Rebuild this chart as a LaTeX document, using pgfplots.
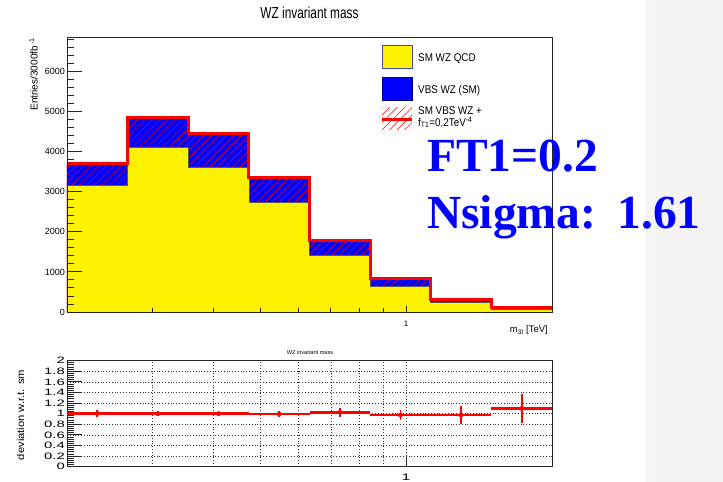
\documentclass[border=0pt]{standalone}
\usepackage{fontspec}
\setmainfont{Liberation Sans}
\newfontfamily\bigserif{Liberation Serif}
\usepackage{graphicx}
\usepackage{pgfplots}
\usepackage{pgfplotstable}
\pgfplotsset{compat=1.18}
\usetikzlibrary{patterns.meta}

% bin left edges (log-uniform, 0.2--2 TeV), last row = right edge
\pgfplotstableread{
x qcd tot red
0.200000 0 0 0
0.200000 3150 3690 3698
0.266704 4097 4855 4855
0.355660 3599 4446 4446
0.474281 2736 3365 3349
0.632456 1404 1752 1796
0.843393 648 862 840
1.124683 232 332 324
1.499795 60 106 117
2.000000 60 106 117
}\hist

\pgfplotstableread{
x y xm xp ym yp
0.230956 1.007 0.030956 0.035748 0.065 0.065
0.307985 1.000 0.041281 0.047675 0.050 0.050
0.410710 1.000 0.055050 0.063571 0.050 0.050
0.547691 0.995 0.073410 0.084765 0.065 0.065
0.730351 1.026 0.097895 0.113042 0.085 0.085
0.973937 0.975 0.130544 0.150746 0.100 0.100
1.298764 0.975 0.174081 0.201031 0.165 0.165
1.731936 1.100 0.232141 0.268064 0.270 0.270
}\ratio

\newcommand{\fs}[1]{\fontsize{#1bp}{#1bp}\selectfont}
\newcommand{\sx}[1]{\scalebox{1.6}[1]{#1}}

\begin{document}
\begin{tikzpicture}
\useasboundingbox (0,0) rectangle (723bp,482bp);
\fill[white] (0,0) rectangle (723bp,482bp);
\shade[left color=gray!8, right color=gray!10] (645bp,0) rectangle (723bp,482bp);

% ---------------- top panel ----------------
\begin{axis}[
  scale only axis, width=485bp, height=275bp,
  at={(67bp,170bp)}, anchor=south west,
  xmode=log, xmin=0.2, xmax=2, ymin=0, ymax=6860,
  axis on top, tick pos=left, tick align=inside,
  xtick=\empty,
  ytick={0,1000,2000,3000,4000,5000,6000},
  yticklabels={0,1000,2000,3000,4000,5000,6000},
  minor ytick={0,200,...,6800},
  major tick length=15bp, minor tick length=7.5bp,
  axis line style={black!85, line width=0.9bp},
  every tick/.style={black!85, line width=0.9bp},
  yticklabel style={font=\fs{9}, inner sep=2bp},
  /pgf/number format/assume math mode=true,
]
\addplot[const plot mark left, draw=none, fill=blue] table[x=x,y=tot]{\hist} \closedcycle;
\addplot[const plot mark left, draw=none, pattern={Lines[angle=45,distance=5.3bp,line width=0.5bp]}, pattern color=red] table[x=x,y=red]{\hist} \closedcycle;
\addplot[const plot mark left, fill=yellow, draw=black!65, line width=0.7bp] table[x=x,y=qcd]{\hist} \closedcycle;
\addplot[const plot mark left, draw=blue!35!black, line width=0.6bp] table[x=x,y=tot]{\hist};
\addplot[const plot mark left, draw=red, line width=3bp] table[x=x,y=red]{\hist};
\end{axis}

% x ticks of top panel
\begin{axis}[
  scale only axis, width=485bp, height=275bp,
  at={(67bp,170bp)}, anchor=south west,
  xmode=log, xmin=0.2, xmax=2, ymin=0, ymax=6860,
  hide y axis, axis x line*=bottom,
  axis line style={-, black!85, line width=0.9bp},
  tick align=inside,
  xtick={1}, xticklabels={1},
  minor xtick={0.3,0.4,0.5,0.6,0.7,0.8,0.9},
  major tick length=6bp, minor tick length=4bp,
  every tick/.style={black!85, line width=0.9bp},
  xticklabel style={font=\fs{8}, yshift=-5bp},
  /pgf/number format/assume math mode=true,
]
\end{axis}

% ---------------- bottom panel ----------------
\begin{axis}[
  scale only axis, width=485bp, height=106bp,
  at={(67bp,15.3bp)}, anchor=south west,
  xmode=log, xmin=0.2, xmax=2, ymin=0, ymax=2,
  hide y axis, axis x line*=bottom,
  axis line style={-, black!85, line width=0.9bp},
  tick align=inside,
  xtick={1}, xticklabels={\sx{1}},
  minor xtick={0.3,0.4,0.5,0.6,0.7,0.8,0.9},
  xmajorgrids, xminorgrids,
  grid style={black!80, line width=0.7bp, dash pattern=on 0.8bp off 2bp},
  major tick length=10bp, minor tick length=0bp,
  every tick/.style={black!85, line width=0.9bp},
  xticklabel style={font=\fs{9.5}, yshift=-4bp},
  /pgf/number format/assume math mode=true,
]
\end{axis}

\begin{axis}[
  scale only axis, width=485bp, height=106bp,
  at={(67bp,15.3bp)}, anchor=south west,
  xmode=log, xmin=0.2, xmax=2, ymin=0, ymax=2,
  tick pos=left, tick align=inside,
  xtick=\empty,
  ytick={0,0.2,0.4,0.6,0.8,1,1.2,1.4,1.6,1.8,2},
  yticklabels={\sx{0},\sx{0.2},\sx{0.4},\sx{0.6},\sx{0.8},\sx{1},\sx{1.2},\sx{1.4},\sx{1.6},\sx{1.8},\sx{2}},
  minor ytick={0,0.04,...,2.01},
  ymajorgrids,
  grid style={black!80, line width=0.7bp, dash pattern=on 0.8bp off 2bp},
  major tick length=15bp, minor tick length=7bp,
  axis line style={black!85, line width=0.9bp},
  every tick/.style={black!85, line width=0.9bp},
  yticklabel style={font=\fs{9.3}, inner sep=2bp},
  /pgf/number format/assume math mode=true,
]
\addplot[red, only marks, mark=none, error bars/.cd, x dir=both, x explicit, error mark=none,
  error bar style={line width=2.6bp, red}]
  table[x=x, y=y, x error minus=xm, x error plus=xp]{\ratio};
\addplot[red, only marks, mark=none, error bars/.cd, y dir=both, y explicit, error mark=none,
  error bar style={line width=1.8bp, red}]
  table[x=x, y=y, y error minus=ym, y error plus=yp]{\ratio};
\end{axis}

% ---------------- texts ----------------
\node[anchor=base, inner sep=0] at (309.5bp,463bp) {\scalebox{0.74}[1]{\fs{16}WZ invariant mass}};
\node[rotate=90, anchor=base east, inner sep=0] at (37.7bp,444bp) {\fs{10}Entries/3000fb\textsuperscript{\,-1}};
\node[anchor=base east, inner sep=0] at (548bp,149bp) {\fs{9.5}m\textsubscript{3l} [TeV]};
\node[anchor=base, inner sep=0] at (310bp,127bp) {\fs{5.6}WZ invariant mass};
\node[rotate=90, anchor=base, inner sep=0] at (24bp,67bp) {\scalebox{1.12}[1]{\fs{10}deviation w.r.t. sm}};

% legend
\filldraw[fill=yellow, draw=blue!45!gray, line width=0.6bp] (382bp,413.7bp) rectangle (412bp,437bp);
\filldraw[fill=blue, draw=blue!60!black, line width=0.6bp] (382bp,381.3bp) rectangle (412bp,404.7bp);
\fill[pattern={Lines[angle=45,distance=5.3bp,line width=0.5bp]}, pattern color=red] (382bp,352bp) rectangle (412bp,374bp);
\draw[red, line width=3bp] (382bp,362bp) -- (412bp,362bp);
\node[anchor=base west, inner sep=0] at (418bp,420.3bp) {\scalebox{0.88}[1]{\fs{11.2}SM WZ QCD}};
\node[anchor=base west, inner sep=0] at (418bp,388.7bp) {\scalebox{0.88}[1]{\fs{11.2}VBS WZ (SM)}};
\node[anchor=base west, inner sep=0] at (418bp,367.8bp) {\scalebox{0.88}[1]{\fs{11.2}SM VBS WZ +}};
\node[anchor=base west, inner sep=0] at (418bp,355.8bp) {\scalebox{0.88}[1]{\fs{11.2}f\textsubscript{T1}=0.2TeV\textsuperscript{-4}}};

% overlay annotation
\node[anchor=base west, inner sep=0, text=blue] at (427bp,310.3bp) {\bigserif\bfseries\fs{47.5}FT1=0.2};
\node[anchor=base west, inner sep=0, text=blue] at (427bp,253.7bp) {\bigserif\bfseries\fs{47.5}Nsigma:\hspace{0.12em} 1.61};
\end{tikzpicture}
\end{document}
